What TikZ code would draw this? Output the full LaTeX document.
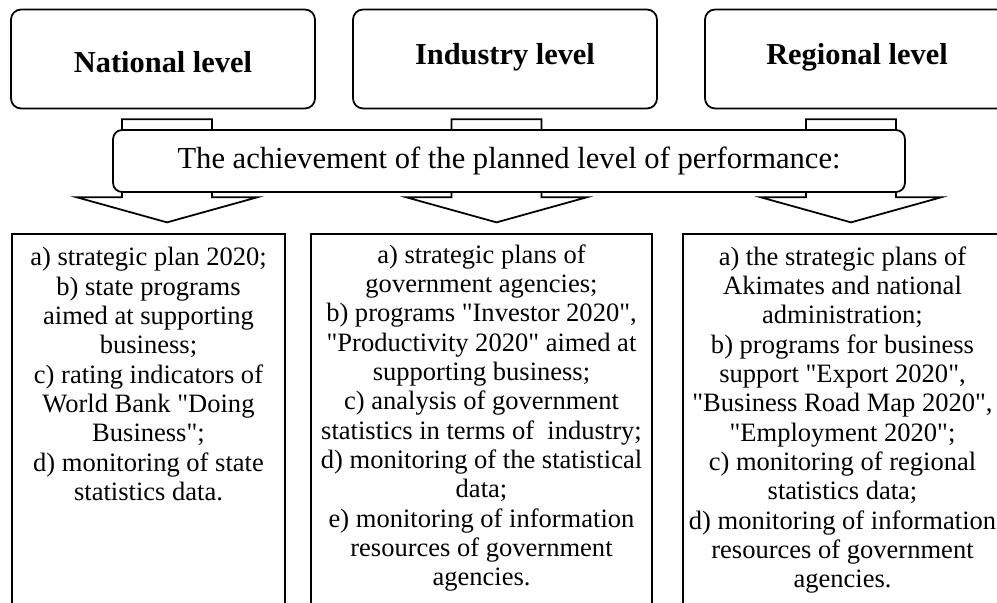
\documentclass[tikz,border=0pt]{standalone}
\usepackage{fontspec}
\setmainfont{Liberation Serif}
\usepackage{tikz}
\usetikzlibrary{positioning}
\usetikzlibrary{calc}
\tikzstyle{level}=[
        draw,
        rectangle,
        rounded corners=0.2cm,
        line width=1pt,
        minimum width=6.08cm,
        minimum height=1.98cm,
        text height=12pt,
        text depth=6.3pt,
        font=\fontsize{17.3}{20}\selectfont\bfseries
]
\tikzstyle{banner}=[draw,rectangle,rounded corners=0.18cm,fill=white,line width=1pt,
minimum width=15.84cm,minimum height=1.24cm,font=\fontsize{17.4}{20}\selectfont]
\tikzstyle{listbox}=[draw,rectangle,line width=1pt,minimum height=8cm,anchor=north]
\tikzstyle{listtext}=[align=center,inner sep=0pt,font=\fontsize{15.1}{16.7}\selectfont]
\tikzstyle{blockarrow}=[draw,line width=1pt,fill=white,line join=miter]
\begin{document}
\begin{tikzpicture}[x=0.02cm,y=0.02cm]
\useasboundingbox (0,0) rectangle (997,602);
\clip (0,0) rectangle (997,602);
\node[level,text height=18pt,text depth=2.1pt] (nat) at (163,543) {National level};
\node[level] (ind) at (505,543) {Industry level};
\node[level] (reg) at (857,543) {Regional level};
\node[listbox,minimum width=5.46cm] (natbox) at (148.5,369) {};
\node[listbox,minimum width=6.82cm] (indbox) at (481.5,369) {};
\node[listbox,minimum width=6.54cm] (regbox) at (846.5,369) {};
\node[listtext,below=0.28cm of natbox.north] (natlist) {a) strategic plan 2020;\\ b) state programs\\ aimed at supporting\\ business;\\ c) rating indicators of\\ World Bank \textquotedbl Doing\\ Business\textquotedbl;\\ d) monitoring of state\\ statistics data.};
\node[listtext,below=0.22cm of indbox.north] (indlist) {a) strategic plans of\\ government agencies;\\ b) programs \textquotedbl Investor 2020\textquotedbl,\\ \textquotedbl Productivity 2020\textquotedbl{} aimed at\\ supporting business;\\ c) analysis of government\\ statistics in terms of\ \ industry;\\ d) monitoring of the statistical\\ data;\\ e) monitoring of information\\ resources of government\\ agencies.};
\node[listtext,below=0.26cm of regbox.north,xshift=-0.08cm] (reglist) {a) the strategic plans of\\ Akimates and national\\ administration;\\ b) programs for business\\ support \textquotedbl Export 2020\textquotedbl,\\ \textquotedbl Business Road Map 2020\textquotedbl,\\ \textquotedbl Employment 2020\textquotedbl;\\ c) monitoring of regional\\ statistics data;\\ d) monitoring of information\\ resources of government\\ agencies.};
%block arrows from the levels
\draw[blockarrow] ($(nat.south)+(-41,-10)$) -- ++(90,0) -- ++(0,-78) -- ++(45,0) -- ++(-90,-25) -- ++(-90,25) -- ++(45,0) -- cycle;
\draw[blockarrow] ($(ind.south)+(-53.5,-10)$) -- ++(90,0) -- ++(0,-78) -- ++(45,0) -- ++(-90,-25) -- ++(-90,25) -- ++(45,0) -- cycle;
\draw[blockarrow] ($(reg.south)+(-51,-10)$) -- ++(90,0) -- ++(0,-78) -- ++(45,0) -- ++(-90,-25) -- ++(-90,25) -- ++(45,0) -- cycle;
\node[banner] (perf) at (509,441) {The achievement of the planned level of performance:};
\end{tikzpicture}
\end{document}
